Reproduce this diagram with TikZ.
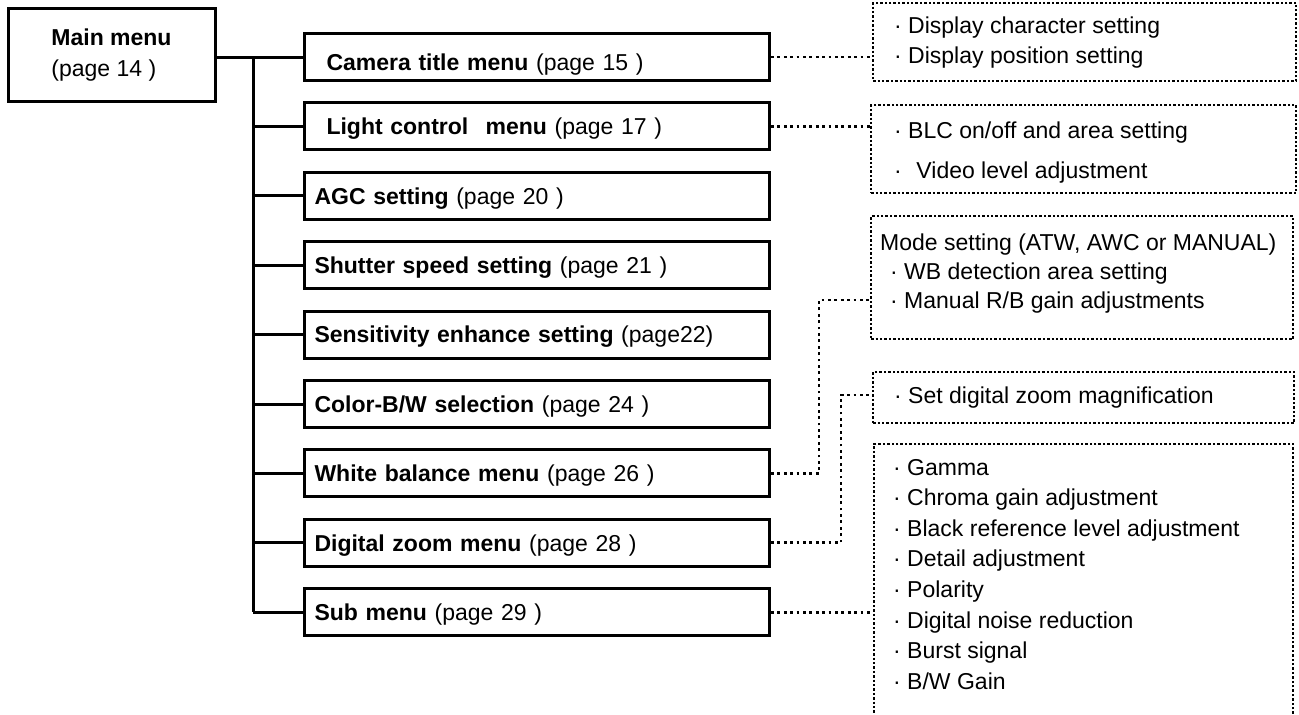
\documentclass[tikz,border=0pt]{standalone}
\usepackage{fontspec}
\setmainfont{Liberation Sans}
\begin{document}
\begin{tikzpicture}[x=1pt,y=-1pt,
  every node/.style={font=\fontsize{23}{28}\selectfont, inner sep=0pt},
  mainbox/.style={draw, line width=3pt, minimum width=207pt, minimum height=93pt, align=left, font=\fontsize{23}{31}\selectfont},
  menubox/.style={draw, line width=3pt, anchor=west, text width=445pt, inner xsep=10pt, minimum height=47pt, text height=16.5pt, text depth=0pt, align=left},
  tree/.style={line width=3pt},
  dbox/.style={draw, line width=2.4pt, dash pattern=on 2.4pt off 2pt, anchor=north west},
  conn/.style={line width=2.8pt, dash pattern=on 2.8pt off 3.6pt},
  item/.style={anchor=base west}]
\useasboundingbox (0,0) rectangle (1299,715);
\clip (0,0) rectangle (1299,715);

% main menu
\node[mainbox] (main) at (111.5,55) {\textbf{Main menu}\\(page 14 )};

% menu boxes
\node[menubox] (m1) at (303,57) {\raisebox{-5pt}{\hspace*{12pt}\textbf{Camera title menu} (page 15 )}};
\node[menubox] (m2) at (303,126.4) {\hspace*{12pt}\textbf{Light control\hspace{17.4pt}menu} (page 17 )};
\node[menubox] (m3) at (303,195.8) {\textbf{AGC setting} (page 20 )};
\node[menubox] (m4) at (303,265.2) {\textbf{Shutter speed setting} (page 21 )};
\node[menubox] (m5) at (303,334.6) {\textbf{Sensitivity enhance setting} (page22)};
\node[menubox] (m6) at (303,404) {\textbf{Color-B/W selection} (page 24 )};
\node[menubox] (m7) at (303,473.4) {\textbf{White balance menu} (page 26 )};
\node[menubox] (m8) at (303,542.8) {\textbf{Digital zoom menu} (page 28 )};
\node[menubox] (m9) at (303,612.2) {\textbf{Sub menu} (page 29 )};

% tree
\coordinate (trunk) at (253,0);
\draw[tree] (main.east |- m1.west) -- (m1.west);
\draw[tree] (trunk |- m1.west) -- (trunk |- m9.west);
\foreach \i in {2,...,9} {
  \draw[tree] (trunk |- m\i.west) -- (m\i.west);
}

% dotted boxes
\node[dbox, minimum width=423pt, minimum height=78.5pt] (b1) at (872,1.5) {};
\node[dbox, minimum width=425pt, minimum height=88pt] (b2) at (870,104) {};
\node[dbox, minimum width=422pt, minimum height=123pt] (b3) at (870,215) {};
\node[dbox, minimum width=421pt, minimum height=51pt] (b4) at (872,371) {};
\node[dbox, minimum width=419pt, minimum height=317pt] (b5) at (873,443) {};

% box texts
\node[item] (t1a) at (894,33) {· Display character setting};
\node[item] (t1b) at (894,63) {· Display position setting};
\node[item] (t2a) at (894,138) {· BLC on/off and area setting};
\node[item] (t2b) at (894,178) {·\hspace{14.6pt}Video level adjustment};
\node[item] (t3a) at (880,250) {Mode setting (ATW, AWC or MANUAL)};
\node[item] (t3b) at (890,279) {· WB detection area setting};
\node[item] (t3c) at (890,308) {· Manual R/B gain adjustments};
\node[item] (t4a) at (894,403) {· Set digital zoom magnification};
\node[item] (t5a) at (893,475) {· Gamma};
\node[item] (t5b) at (893,505.6) {· Chroma gain adjustment};
\node[item] (t5c) at (893,536.2) {· Black reference level adjustment};
\node[item] (t5d) at (893,566.8) {· Detail adjustment};
\node[item] (t5e) at (893,597.4) {· Polarity};
\node[item] (t5f) at (893,628) {· Digital noise reduction};
\node[item] (t5g) at (893,658.6) {· Burst signal};
\node[item] (t5h) at (893,689.2) {· B/W Gain};

% dotted connectors
\draw[conn] (m1.east) -- (m1.east -| b1.west);
\draw[conn] (m2.east) -- (m2.east -| b2.west);
\coordinate (e7) at (819,300);
\draw[conn] (m7.east) -| (e7) -- (e7 -| b3.west);
\coordinate (e8) at (841,395);
\draw[conn] (m8.east) -| (e8) -- (e8 -| b4.west);
\draw[conn] (m9.east) -- (m9.east -| b5.west);
\end{tikzpicture}
\end{document}
